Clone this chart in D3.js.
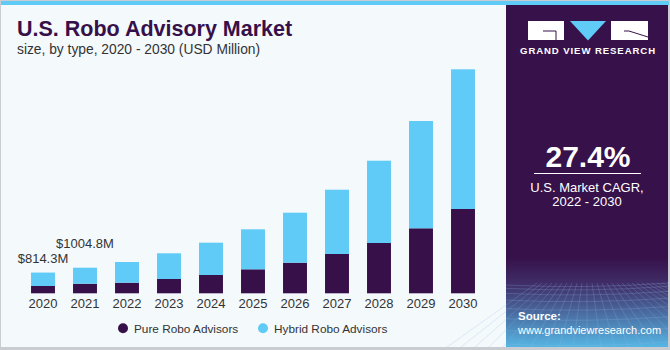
<!DOCTYPE html>
<html>
<head>
<meta charset="utf-8">
<script src="https://cdn.jsdelivr.net/npm/d3@7"></script>
<style>
  html, body { margin: 0; padding: 0; background: #fff; }
  svg { display: block; font-family: "Liberation Sans", Arial, sans-serif; }
</style>
</head>
<body>
<div id="chart"></div>
<script>
const years = ["2020", "2021", "2022", "2023", "2024", "2025", "2026", "2027", "2028", "2029", "2030"]
const pure = [287, 377, 417, 562, 719, 943, 1203, 1545, 1977, 2555, 3313]
const hybrid = [527, 628, 813, 1010, 1270, 1572, 1965, 2526, 3234, 4216, 5490]
const seriesNames = ["Pure Robo Advisors", "Hybrid Robo Advisors"]
const colors = ["#37104a", "#5fcbf6"]
const callouts = [{ year: "2020", text: "$814.3M" }, { year: "2021", text: "$1004.8M" }]

const W = 670, H = 350
const svg = d3.select("#chart").append("svg").attr("width", W).attr("height", H)

// panel backgrounds
svg.append("rect").attr("x", 0).attr("y", 0).attr("width", W).attr("height", H).attr("fill", "#c9cdd1")
svg.append("rect").attr("x", 1).attr("y", 1).attr("width", W - 3).attr("height", H - 3).attr("fill", "#f4f9fc")

const defs = svg.append("defs")
const grad = defs.append("linearGradient").attr("id", "side").attr("x1", 0).attr("y1", 0).attr("x2", 0).attr("y2", 1)
grad.append("stop").attr("offset", "0%").attr("stop-color", "#37114a")
grad.append("stop").attr("offset", "74%").attr("stop-color", "#37114a")
grad.append("stop").attr("offset", "82%").attr("stop-color", "#40306a")
grad.append("stop").attr("offset", "100%").attr("stop-color", "#56b8e6")

svg.append("rect").attr("x", 506).attr("y", 1).attr("width", 162).attr("height", H - 3).attr("fill", "url(#side)")

// grid texture at bottom of side panel
const grid = svg.append("g").attr("stroke", "#8fb6e0").attr("stroke-opacity", 0.35).attr("stroke-width", 0.7).attr("fill", "none")
for (let i = 0; i < 9; i++) {
  const y = 285 + i * i * 0.85 + i * 2.5
  grid.append("path").attr("d", `M506,${y} Q587,${y + 4} 668,${y - 2}`)
}
for (let i = -10; i <= 30; i++) {
  const x0 = 587 + i * 5
  const x1 = 587 + i * 14
  grid.append("line").attr("x1", x0).attr("y1", 283).attr("x2", x1).attr("y2", 347)
}
svg.append("rect").attr("x", 668).attr("y", 1).attr("width", 2).attr("height", H - 1).attr("fill", "#c9cdd1")
svg.append("rect").attr("x", 0).attr("y", 347).attr("width", W).attr("height", 3).attr("fill", "#c9cdd1")

// top strip
svg.append("rect").attr("x", 1).attr("y", 1).attr("width", W - 2).attr("height", 4).attr("fill", "#5fcbf6")

// titles
svg.append("text").attr("x", 17).attr("y", 35.5).attr("fill", "#37104a")
  .attr("font-size", 21.5).attr("font-weight", "bold").text("U.S. Robo Advisory Market")
svg.append("text").attr("x", 17).attr("y", 54).attr("fill", "#333")
  .attr("font-size", 13.8).text("size, by type, 2020 - 2030 (USD Million)")

// scales
const x = d3.scaleBand().domain(years).range([22, 484]).paddingInner(0.43).paddingOuter(0.215)
const y = d3.scaleLinear().domain([0, 9000]).range([293.3, 293.3 - 9000 / 39.3])

const rows = years.map((yr, i) => ({ year: yr, pure: pure[i], hybrid: hybrid[i] }))
const stacked = d3.stack().keys(["pure", "hybrid"])(rows)

svg.append("g").selectAll("g").data(stacked).join("g")
  .attr("fill", (d, i) => colors[i])
  .selectAll("rect").data(d => d).join("rect")
  .attr("x", d => x(d.data.year))
  .attr("width", x.bandwidth())
  .attr("y", d => y(d[1]))
  .attr("height", d => y(d[0]) - y(d[1]))

// year axis
const xAxis = svg.append("g").attr("transform", "translate(0,293.3)")
  .call(d3.axisBottom(x).tickSize(0).tickPadding(5))
xAxis.select(".domain").remove()
xAxis.selectAll("text").attr("font-size", 13).attr("fill", "#333")
  .attr("font-family", "Liberation Sans, Arial, sans-serif")

// value callouts
const total = yr => pure[years.indexOf(yr)] + hybrid[years.indexOf(yr)]
svg.append("g").selectAll("text").data(callouts).join("text")
  .attr("x", d => x(d.year) + x.bandwidth() / 2)
  .attr("y", (d, i) => y(total(d.year)) - (i === 0 ? 10 : 20))
  .attr("text-anchor", "middle")
  .attr("font-size", 13).attr("fill", "#333")
  .text(d => d.text)

// legend
const legend = svg.append("g")
const legendX = [123, 263]
seriesNames.forEach((name, i) => {
  legend.append("circle").attr("cx", legendX[i]).attr("cy", 328.3).attr("r", 5).attr("fill", colors[i])
  legend.append("text").attr("x", legendX[i] + 11).attr("y", 332.5)
    .attr("font-size", 11.8).attr("fill", "#333").text(name)
})

// logo
const logo = svg.append("g")
logo.append("rect").attr("x", 528).attr("y", 21).attr("width", 36).attr("height", 19).attr("fill", "#fff")
logo.append("path").attr("d", "M543,31 L556,31 L556,40").attr("stroke", "#37114a").attr("stroke-width", 1).attr("fill", "none")
logo.append("path").attr("d", "M570,21 L606,21 L588,40.5 Z").attr("fill", "#5fcbf6")
logo.append("rect").attr("x", 611).attr("y", 21).attr("width", 37).attr("height", 19).attr("fill", "#fff")
logo.append("path").attr("d", "M624,31 L629,31 L648,37").attr("stroke", "#37114a").attr("stroke-width", 1).attr("fill", "none")
svg.append("text").attr("x", 588).attr("y", 54).attr("text-anchor", "middle")
  .attr("font-size", 9.6).attr("font-weight", "bold").attr("letter-spacing", 0.9)
  .attr("fill", "#fff").text("GRAND VIEW RESEARCH")

// CAGR
svg.append("text").attr("x", 588).attr("y", 166.5).attr("text-anchor", "middle")
  .attr("font-size", 30).attr("font-weight", "bold").attr("fill", "#fff").text("27.4%")
svg.append("line").attr("x1", 534).attr("x2", 641).attr("y1", 173.5).attr("y2", 173.5)
  .attr("stroke", "#fff").attr("stroke-width", 1)
svg.append("text").attr("x", 587).attr("y", 192).attr("text-anchor", "middle")
  .attr("font-size", 13).attr("fill", "#fff").text("U.S. Market CAGR,")
svg.append("text").attr("x", 587).attr("y", 205.5).attr("text-anchor", "middle")
  .attr("font-size", 13).attr("fill", "#fff").text("2022 - 2030")

// source
svg.append("text").attr("x", 518).attr("y", 320).attr("font-size", 11.5).attr("font-weight", "bold")
  .attr("fill", "#fff").text("Source:")
svg.append("text").attr("x", 518).attr("y", 334).attr("font-size", 11)
  .attr("fill", "#fff").text("www.grandviewresearch.com")
</script>
</body>
</html>
